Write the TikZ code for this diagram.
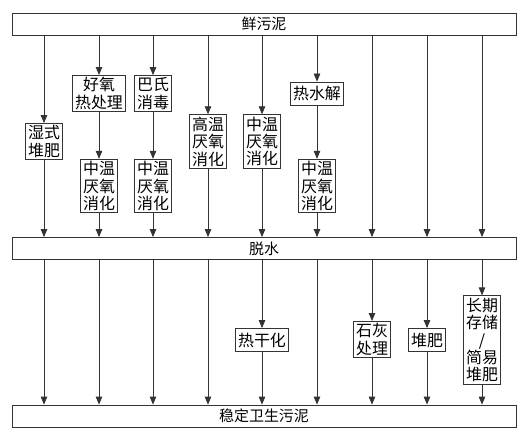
\documentclass[tikz,border=0pt]{standalone}
\usepackage{fontspec}
\setmainfont{Noto Sans CJK SC}
\usetikzlibrary{arrows.meta}

\begin{document}
\begin{tikzpicture}[x=1bp, y=-1bp, >={Triangle[length=8bp,width=6.5bp]},
  every edge/.style={->, draw=black!80, line width=0.8bp},
  bar/.style={draw=black!80, line width=0.8bp, minimum width=504bp, minimum height=22bp, inner sep=0pt, font=\fontsize{15}{17}\selectfont},
  stage/.style={draw=black!80, line width=0.8bp, align=center, inner xsep=2.5bp, inner ysep=2bp, minimum height=23bp, font=\fontsize{16}{17.5}\selectfont}]
\useasboundingbox (0,0) rectangle (528,436);

\node[bar] (fresh)   at (264,24)    {鲜污泥};
\node[bar] (dewater) at (264,248.5) {脱水};
\node[bar] (stable)  at (264,416)   {稳定卫生污泥};

% before dewatering
\node[stage] (wetcomp) at (44,141.5)  {湿式\\堆肥};
\node[stage] (aerobic) at (99,93.5)   {好氧\\热处理};
\node[stage] (pasteur) at (153,93.5)  {巴氏\\消毒};
\node[stage] (mesoA)   at (99,186)    {中温\\厌氧\\消化};
\node[stage] (mesoB)   at (153,186)   {中温\\厌氧\\消化};
\node[stage] (thermo)  at (208,141.5) {高温\\厌氧\\消化};
\node[stage] (mesoC)   at (262,141.5) {中温\\厌氧\\消化};
\node[stage] (hydro)   at (317,93.5)  {热水解};
\node[stage] (mesoD)   at (317,186)   {中温\\厌氧\\消化};
\coordinate (u7) at (372,0);
\coordinate (u8) at (427,0);
\coordinate (u9) at (482,0);

% after dewatering
\node[stage] (drying)  at (262,340)   {热干化};
\node[stage] (lime)    at (372,339.5) {石灰\\处理};
\node[stage] (compost) at (427,340)   {堆肥};
\node[stage] (storage) at (482,340)   {长期\\存储\\/\\简易\\堆肥};
\coordinate (d1) at (44,0);
\coordinate (d2) at (99,0);
\coordinate (d3) at (153,0);
\coordinate (d4) at (208,0);
\coordinate (d6) at (317,0);

\path
(fresh.south -| wetcomp) edge (wetcomp)
(wetcomp) edge (dewater.north -| wetcomp)
(fresh.south -| aerobic) edge (aerobic)
(aerobic) edge (mesoA)
(mesoA) edge (dewater.north -| mesoA)
(fresh.south -| pasteur) edge (pasteur)
(pasteur) edge (mesoB)
(mesoB) edge (dewater.north -| mesoB)
(fresh.south -| thermo) edge (thermo)
(thermo) edge (dewater.north -| thermo)
(fresh.south -| mesoC) edge (mesoC)
(mesoC) edge (dewater.north -| mesoC)
(fresh.south -| hydro) edge (hydro)
(hydro) edge (mesoD)
(mesoD) edge (dewater.north -| mesoD)
(fresh.south -| u7) edge (dewater.north -| u7)
(fresh.south -| u8) edge (dewater.north -| u8)
(fresh.south -| u9) edge (dewater.north -| u9)
;
\path
(dewater.south -| d1) edge (stable.north -| d1)
(dewater.south -| d2) edge (stable.north -| d2)
(dewater.south -| d3) edge (stable.north -| d3)
(dewater.south -| d4) edge (stable.north -| d4)
(dewater.south -| drying) edge (drying)
(drying) edge (stable.north -| drying)
(dewater.south -| d6) edge (stable.north -| d6)
(dewater.south -| lime) edge (lime)
(lime) edge (stable.north -| lime)
(dewater.south -| compost) edge (compost)
(compost) edge (stable.north -| compost)
(dewater.south -| storage) edge (storage)
(storage) edge (stable.north -| storage)
;
\end{tikzpicture}
\end{document}
